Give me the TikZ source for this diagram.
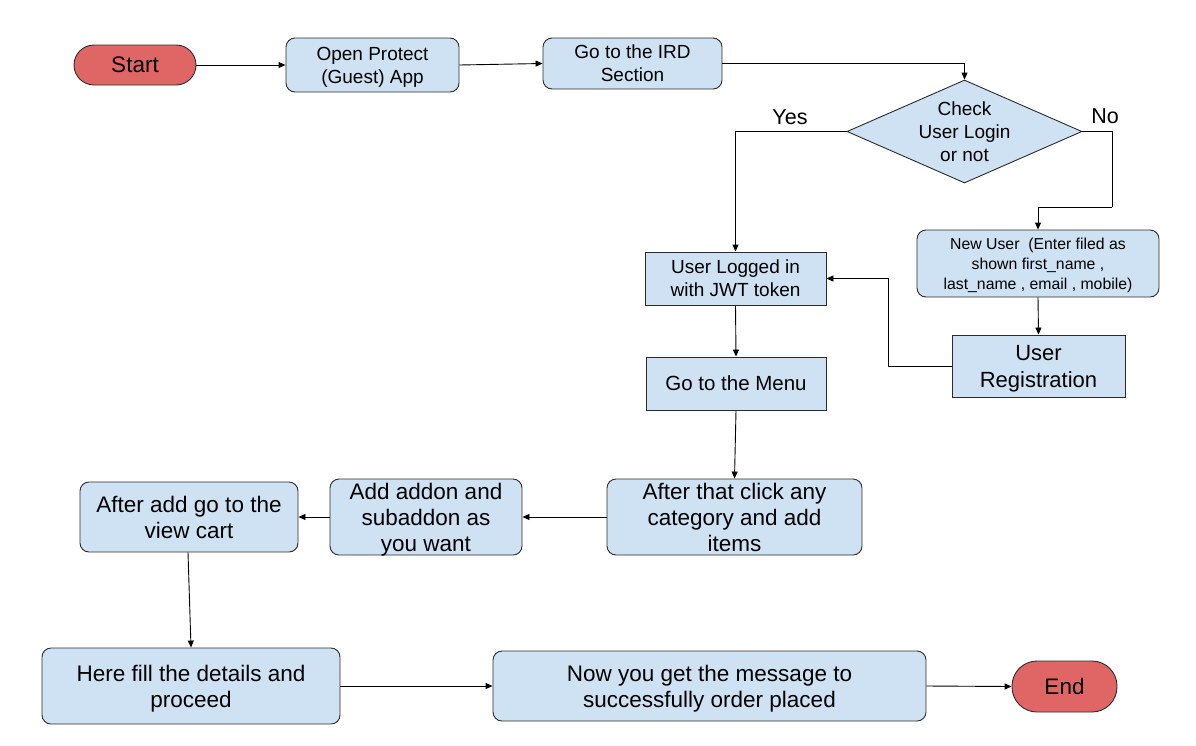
\documentclass[tikz,border=0pt]{standalone}
\usepackage{fontspec}
\setmainfont{Liberation Sans}
\usetikzlibrary{arrows.meta,shapes.geometric}
\definecolor{boxblue}{HTML}{CFE2F3}
\definecolor{boxred}{HTML}{E06666}
\definecolor{edge}{HTML}{2B2B2B}
\newcommand\szL{\fontsize{22.5}{26}\selectfont}
\newcommand\szM{\fontsize{19}{23}\selectfont}
\newcommand\szR{\fontsize{22}{27}\selectfont}
\newcommand\szS{\fontsize{15.8}{20}\selectfont}
\begin{document}
\begin{tikzpicture}[x=1pt,y=-1pt,
  base/.style={draw=edge,line width=0.9pt,fill=boxblue,inner sep=0pt,align=center,text=black,text depth=0pt},
  rbox/.style={base,rounded corners=9pt},
  sbox/.style={base},
  pill/.style={base,fill=boxred},
  conn/.style={draw=black,line width=0.9pt,-{Triangle[length=7pt,width=6pt]}},
  lbl/.style={inner sep=0pt,align=center,text depth=0pt}]
\useasboundingbox (0,0) rectangle (1196,745);
\node[pill,font=\szL,rounded corners=20pt,minimum width=122pt,minimum height=40pt] (start) at (135,65) {Start};
\node[rbox,font=\szM,minimum width=173pt,minimum height=54pt] (open) at (372.5,65) {Open Protect\\(Guest) App};
\node[rbox,font=\szM,minimum width=179pt,minimum height=51pt] (ird) at (632.5,63.5) {Go to the IRD\\Section};
\node[base,shape=diamond,minimum width=235pt,minimum height=103pt] (dia) at (964.5,131.5) {};
\node[lbl,font=\szM] (dialbl) at (dia.center) {Check\\User Login\\or not};
\node[lbl,font=\fontsize{21.5}{25}\selectfont] (yes) at (790,117) {Yes};
\node[lbl,font=\fontsize{21.5}{25}\selectfont] (no) at (1105,116) {No};
\node[sbox,font=\szM,minimum width=181pt,minimum height=53pt] (logged) at (735.5,278.5) {User Logged in\\with JWT token};
\node[rbox,font=\szS,minimum width=242pt,minimum height=67pt] (newuser) at (1038,263.5) {New User\ \ (Enter filed as\\shown first\_name ,\\last\_name , email , mobile)};
\node[sbox,font=\szR,minimum width=173pt,minimum height=62pt] (userreg) at (1038.5,366) {User\\Registration};
\node[sbox,font=\fontsize{20.5}{24}\selectfont,minimum width=180pt,minimum height=53pt] (menu) at (736,383.5) {Go to the Menu};
\node[rbox,font=\szL,minimum width=255pt,minimum height=76pt] (after) at (734.5,517) {After that click any\\category and add\\items};
\node[rbox,font=\szL,minimum width=192pt,minimum height=76pt] (addon) at (426,517) {Add addon and\\subaddon as\\you want};
\node[rbox,font=\szL,minimum width=218pt,minimum height=70pt] (cart) at (189,517) {After add go to the\\view cart};
\node[rbox,font=\szL,minimum width=298pt,minimum height=76pt] (fill) at (191,686) {Here fill the details and\\proceed};
\node[rbox,font=\szL,minimum width=433pt,minimum height=70pt] (now) at (709.5,686) {Now you get the message to\\successfully order placed};
\node[pill,font=\szL,rounded corners=25pt,minimum width=105pt,minimum height=51pt] (end) at (1064.5,686.5) {End};
\coordinate (nobend) at (1112,207);
\draw[conn] (start.east) -- (open.west);
\draw[conn] (open.east) -- (ird.west);
\draw[conn] (ird.east) -| (dia.north);
\draw[conn] (dia.west) -| (logged.north);
\draw[line width=0.9pt] (dia.east) -| (nobend);
\draw[conn] (nobend) -| (newuser.north);
\draw[conn] (newuser.south) -- (userreg.north);
\draw[conn] (userreg.west) -- ++(-63,0) |- (logged.east);
\draw[conn] (logged.south) -- (menu.north);
\draw[conn] (menu.south) -- (after.north);
\draw[conn] (after.west) -- (addon.east);
\draw[conn] (addon.west) -- (cart.east);
\draw[conn] ([xshift=-1pt]cart.south) -- (fill.north);
\draw[conn] (fill.east) -- (now.west);
\draw[conn] (now.east) -- (end.west);
\end{tikzpicture}
\end{document}
